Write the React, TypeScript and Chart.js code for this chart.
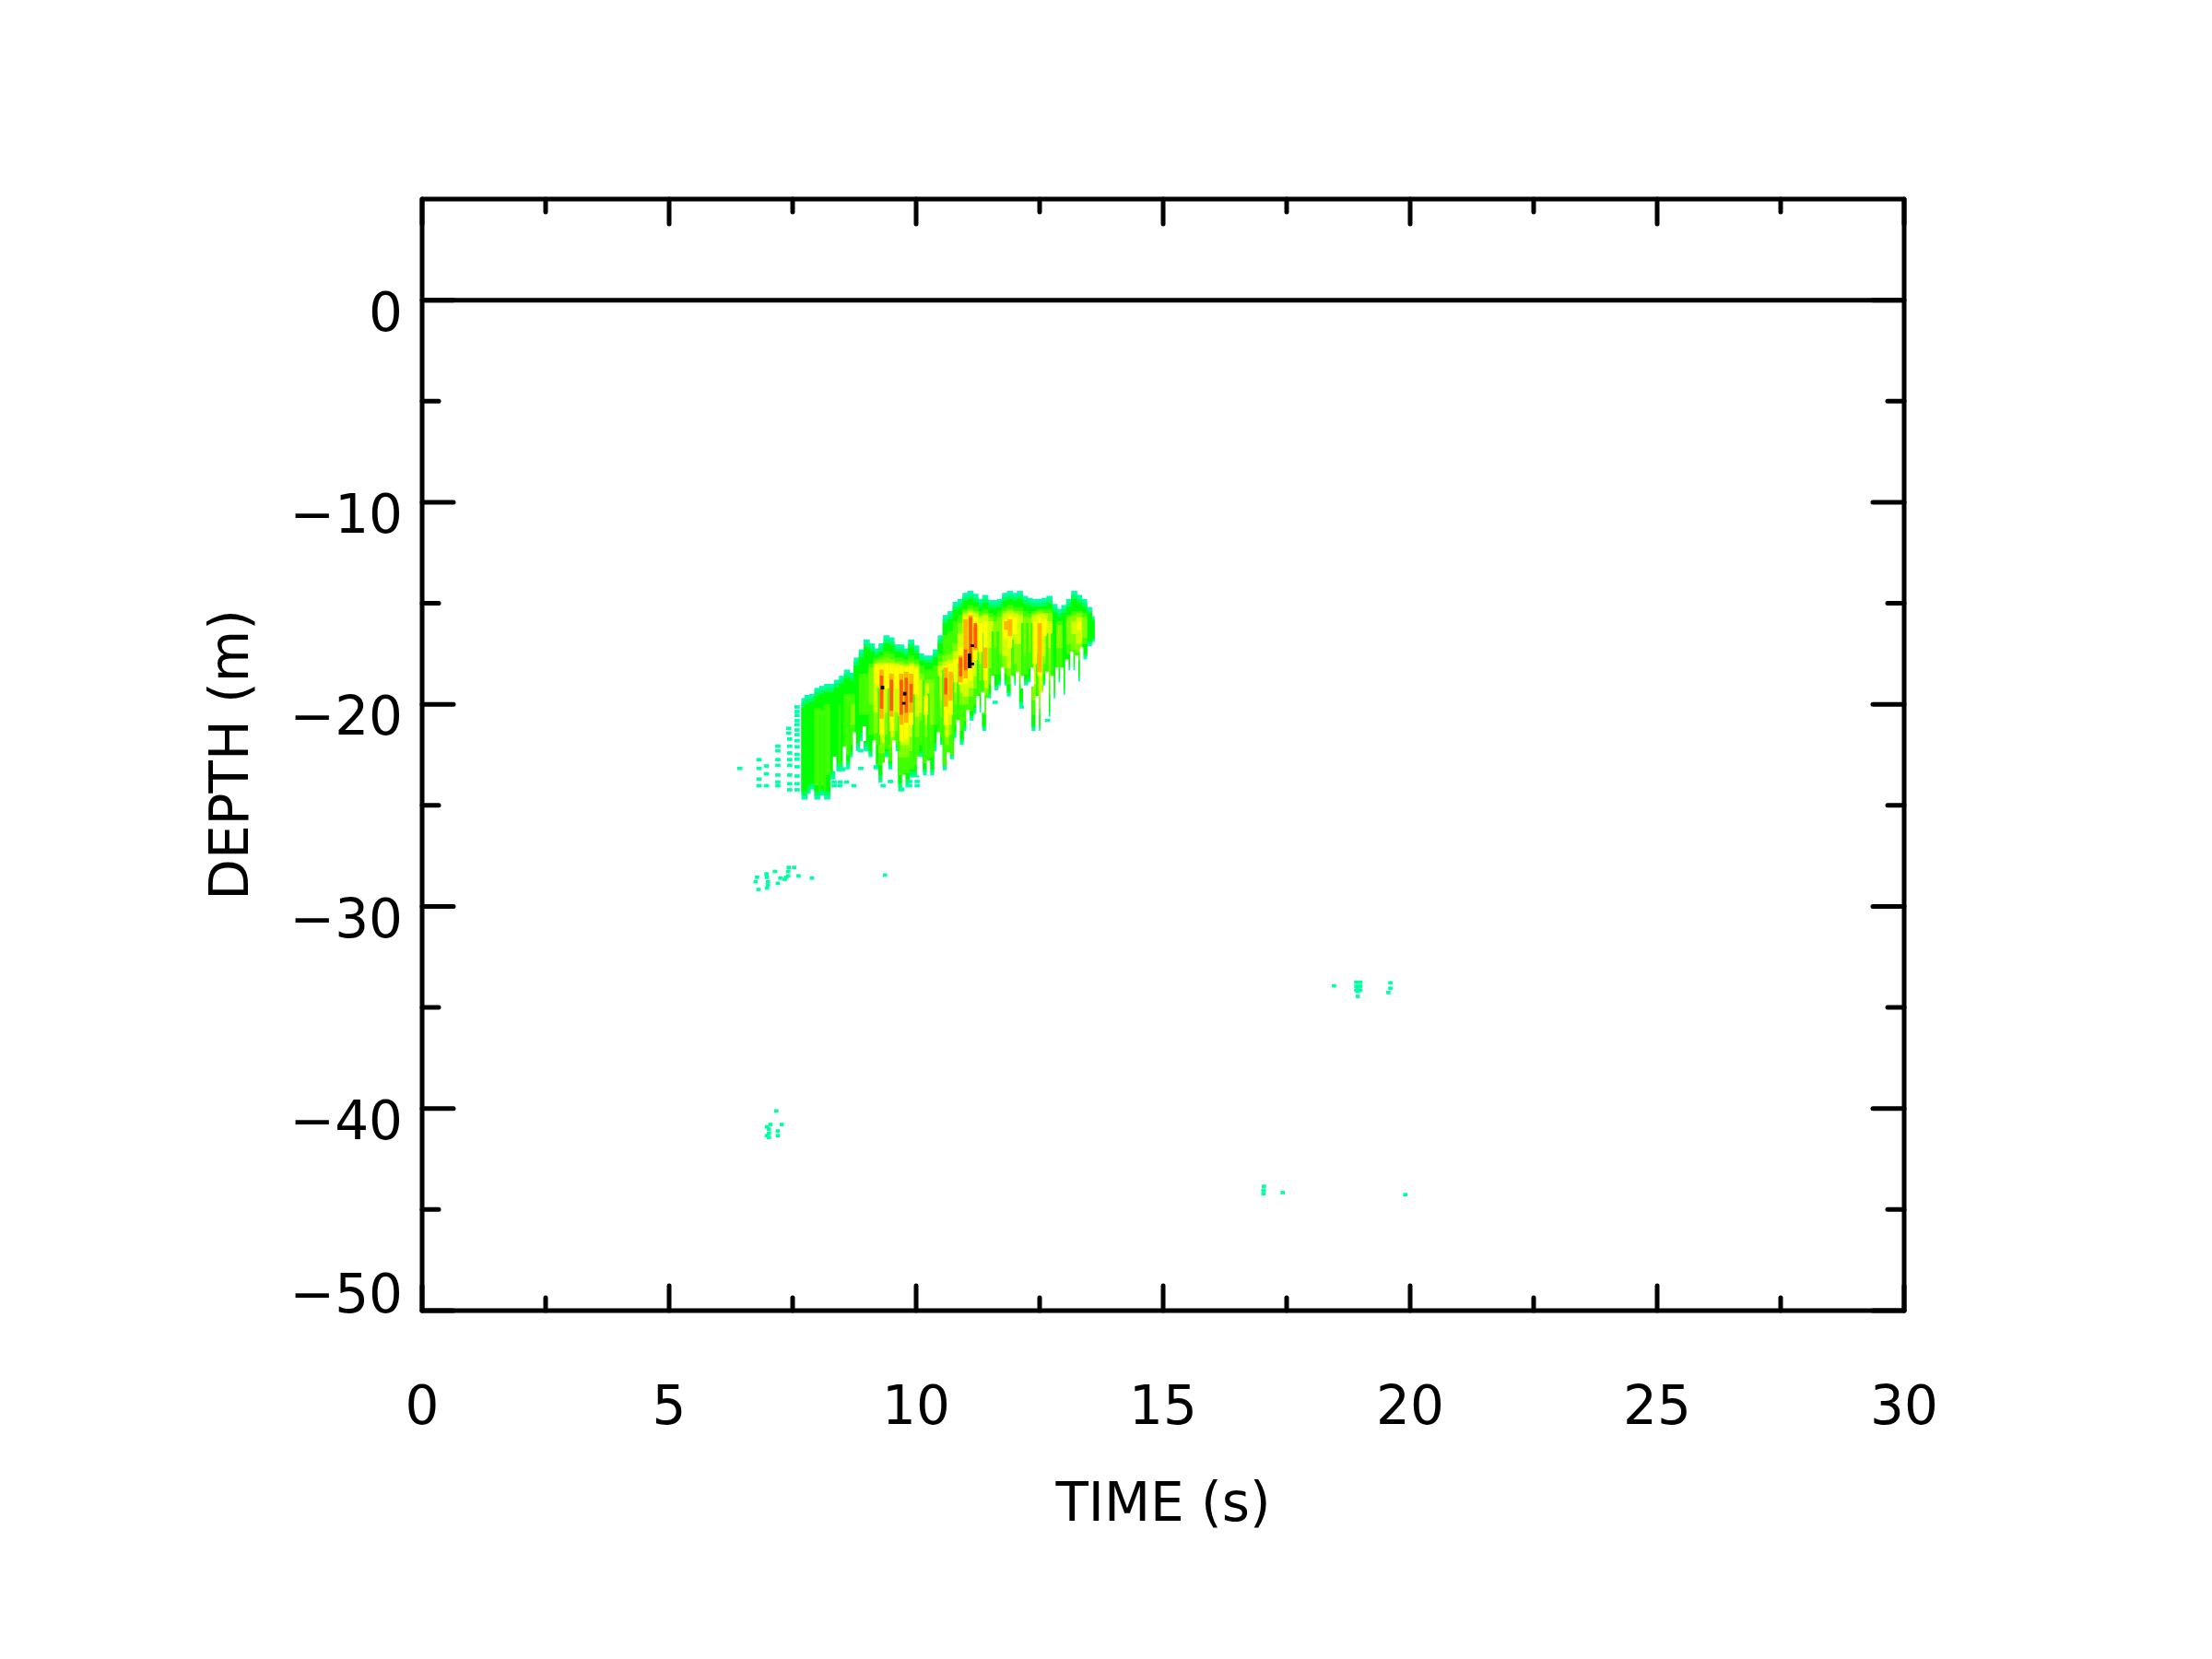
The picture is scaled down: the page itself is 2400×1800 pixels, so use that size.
import React, { useEffect, useRef } from "react";
import { Chart, registerables } from "chart.js";

Chart.register(...registerables);

const xTitle = "TIME (s)";
const yTitle = "DEPTH (m)";
const xMajorTicks = [0, 5, 10, 15, 20, 25, 30];
const xMinorTicks = [2.5, 7.5, 12.5, 17.5, 22.5, 27.5];
const yMajorTicks = [0, -10, -20, -30, -40, -50];
const yMinorTicks = [-5, -15, -25, -35, -45];
const surfaceDepth = [0, 0];
const surfaceTime = [0, 30];

const columnTimes = [7.74,7.8,7.9,8.0,8.1,8.2,8.3,8.4,8.5,8.6,8.7,8.8,8.9,9.0,9.1,9.2,9.3,9.4,9.5,9.6,9.7,9.8,9.9,10.0,10.1,10.2,10.3,10.4,10.5,10.6,10.7,10.8,10.9,11.0,11.1,11.2,11.3,11.4,11.5,11.6,11.7,11.8,11.9,12.0,12.1,12.2,12.3,12.4,12.5,12.6,12.7,12.8,12.9,13.0,13.1,13.2,13.3,13.4,13.5,13.55];

const faintTop = [-19.7,-19.55,-19.5,-19.2,-19.1,-19.0,-19.0,-18.8,-18.6,-18.3,-18.45,-17.7,-17.3,-16.8,-17,-17.25,-17,-16.6,-16.7,-17.05,-17.05,-17.25,-16.8,-17.1,-17.5,-17.6,-17.6,-17.3,-16.6,-15.6,-15.4,-14.95,-14.8,-14.5,-14.4,-14.55,-14.8,-14.6,-14.85,-14.85,-14.8,-14.5,-14.4,-14.5,-14.4,-14.65,-14.75,-14.8,-14.8,-14.75,-14.65,-15.05,-15.3,-15.1,-14.8,-14.4,-14.6,-14.8,-15.2,-15.65];
const faintBottom = [-24.7,-24.4,-24.2,-24.7,-24.5,-24.7,-23.7,-23.3,-23.3,-23.2,-22.6,-22.3,-21.8,-22.3,-22.6,-23.2,-23.85,-22.6,-23.2,-22.3,-24.3,-24.05,-23.6,-23.6,-22.6,-23.5,-23.5,-22.3,-22,-23.25,-22.7,-21.65,-22,-21.3,-20.8,-20.45,-20.3,-21.3,-19.7,-19.3,-19.05,-19.05,-19.6,-19.05,-20.1,-19.05,-18.9,-21.3,-21.3,-19.05,-20.6,-19.7,-18.9,-19.5,-18.3,-18.3,-18.85,-17.75,-17.1,-16.9];
const springTop = [-19.9,-19.75,-19.7,-19.4,-19.3,-19.2,-19.2,-19.0,-18.8,-18.5,-18.65,-17.9,-17.5,-17.0,-17.2,-17.45,-17.2,-16.8,-16.9,-17.25,-17.25,-17.45,-17.0,-17.3,-17.7,-17.8,-17.8,-17.5,-16.8,-15.8,-15.6,-15.15,-15.0,-14.7,-14.6,-14.75,-15.0,-14.8,-15.05,-15.05,-15.0,-14.7,-14.6,-14.7,-14.6,-14.85,-14.95,-15.0,-15.0,-14.95,-14.85,-15.25,-15.5,-15.3,-15.0,-14.6,-14.8,-15.0,-15.4,-15.8];
const springBottom = [-24.5,-24.2,-24.05,-24.5,-24.3,-24.5,-23.5,-23.1,-23.1,-23.0,-22.45,-22.1,-21.6,-22.1,-22.45,-23.05,-23.7,-22.45,-23.05,-22.1,-24.1,-23.9,-23.45,-23.45,-22.45,-23.35,-23.35,-22.1,-21.85,-23.1,-22.55,-21.5,-21.85,-21.15,-20.65,-20.3,-20.15,-21.15,-19.55,-19.15,-18.9,-18.9,-19.45,-18.9,-19.95,-18.9,-18.75,-21.15,-21.15,-18.9,-20.45,-19.55,-18.75,-19.35,-18.15,-18.15,-18.7,-17.6,-16.95,-16.8];
const greenTop = [-20.2,-20.0,-19.9,-19.6,-19.5,-19.4,-19.4,-19.2,-19.0,-18.7,-18.85,-18.1,-17.7,-17.2,-17.4,-17.6,-17.4,-17.0,-17.1,-17.4,-17.45,-17.6,-17.2,-17.5,-17.85,-17.95,-17.95,-17.7,-17.0,-16.0,-15.8,-15.35,-15.2,-14.9,-14.8,-14.95,-15.2,-15.0,-15.25,-15.25,-15.2,-14.9,-14.8,-14.9,-14.8,-15.05,-15.15,-15.2,-15.2,-15.15,-15.05,-15.45,-15.7,-15.5,-15.2,-14.8,-15.0,-15.2,-15.5,-15.85];
const greenBottom = [-24.3,-24.0,-23.9,-24.3,-24.2,-24.3,-23.3,-22.9,-22.8,-22.8,-22.3,-21.9,-21.4,-21.9,-22.3,-22.9,-23.5,-22.3,-22.9,-21.9,-23.9,-23.7,-23.3,-23.3,-22.3,-23.2,-23.2,-21.9,-21.7,-22.95,-22.4,-21.35,-21.7,-21.05,-20.55,-20.15,-20.05,-21.05,-19.45,-19.05,-18.8,-18.8,-19.35,-18.8,-19.85,-18.8,-18.65,-21.05,-21.05,-18.8,-20.35,-19.45,-18.65,-19.25,-18.05,-18.05,-18.6,-17.5,-16.85,-16.75];

const softLimeCells = [[8.0,-20.2,-24],[8.1,-20.3,-24],[8.2,-20,-23.5],[8.6,-19.5,-22.5],[8.7,-19.5,-22],[8.9,-18.5,-20.5],[9.0,-18.5,-20.5],[9.1,-18,-21.5],[9.2,-17.7,-22],[9.3,-17.6,-23],[9.4,-17.4,-22.2],[9.5,-17.5,-22.8],[9.6,-17.7,-22.0],[9.7,-17.7,-23.5],[9.8,-17.8,-23.4],[9.9,-17.6,-23.2],[10.0,-17.8,-23],[10.1,-18.1,-22],[10.2,-18.3,-22.9],[10.3,-18.3,-22.6],[10.4,-18.1,-21],[10.5,-17.5,-21.6],[10.6,-16.6,-23],[10.7,-16.4,-22.5],[10.8,-15.9,-21],[10.9,-15.6,-21.3],[11.0,-15.3,-20.8],[11.1,-15.1,-20.3],[11.2,-15.2,-20],[11.3,-15.4,-19.5],[11.4,-15.3,-20.5],[11.5,-15.5,-19],[11.6,-15.6,-18.5],[11.7,-15.4,-18.5],[11.8,-15.2,-18.5],[11.9,-15.1,-19],[12.0,-15.2,-18.5],[12.1,-15.2,-19],[12.2,-15.4,-18.5],[12.3,-15.5,-18.2],[12.4,-15.4,-20.5],[12.5,-15.3,-20.5],[12.6,-15.3,-18.5],[12.7,-15.3,-19.5],[12.9,-15.9,-18.2],[13.1,-15.6,-17.5],[13.2,-15.4,-17.6],[13.3,-15.4,-17.8],[13.4,-15.5,-17]];
const limeCells = [[8.7,-20,-21],[9.1,-18.2,-20],[9.2,-17.85,-21.4],[9.3,-17.8,-22.4],[9.4,-17.7,-21.5],[9.5,-17.8,-22.1],[9.6,-17.9,-21.3],[9.7,-17.9,-22.6],[9.8,-18,-22.6],[9.9,-17.9,-22.3],[10.0,-18,-21.6],[10.1,-18.5,-20.8],[10.2,-18.8,-21.6],[10.3,-18.8,-21],[10.5,-17.9,-20.6],[10.6,-17.6,-22],[10.7,-17.5,-21.5],[10.8,-17,-20],[10.9,-16,-20],[11.0,-15.4,-20],[11.1,-15.3,-19.6],[11.2,-15.4,-19.2],[11.3,-15.6,-18.8],[11.4,-15.5,-19.5],[11.5,-15.7,-18.2],[11.6,-15.9,-17.2],[11.7,-15.7,-17.5],[11.8,-15.4,-18.2],[11.9,-15.3,-18.6],[12.0,-15.4,-18],[12.1,-15.4,-18.6],[12.2,-15.7,-17.6],[12.3,-15.7,-17.4],[12.4,-15.5,-19.8],[12.5,-15.4,-20.2],[12.6,-15.5,-18],[12.7,-15.5,-18.8],[12.9,-16.1,-17.2],[13.1,-15.7,-17],[13.2,-15.6,-17.3],[13.3,-15.5,-17.4],[13.4,-15.7,-16.7]];
const chartreuseCells = [[9.2,-18,-20.4],[9.3,-17.95,-21.9],[9.4,-17.95,-20.4],[9.5,-17.95,-21.6],[9.6,-18,-20.4],[9.7,-18.05,-22],[9.8,-18.1,-22],[9.9,-18,-21.6],[10.0,-18.1,-20.6],[10.1,-18.8,-20.4],[10.2,-19,-21],[10.5,-18.1,-19.8],[10.6,-17.9,-21.6],[10.7,-17.8,-21],[10.8,-17.4,-19.4],[10.9,-16.5,-19.4],[11.0,-15.5,-19.6],[11.1,-15.4,-19.2],[11.2,-15.5,-18.6],[11.3,-15.7,-18],[11.4,-15.6,-19.2],[11.5,-15.9,-17.2],[11.8,-15.5,-17.6],[11.9,-15.4,-18.2],[12.0,-15.5,-17],[12.1,-15.6,-17],[12.4,-15.6,-19],[12.5,-15.5,-19.5],[12.6,-15.5,-17.6],[12.7,-15.9,-17.2],[13.2,-15.9,-16.5],[13.3,-15.7,-17]];
const yellowCells = [[9.2,-18.05,-19],[9.3,-18.05,-21.5],[9.4,-18,-19.2],[9.5,-18.05,-21.3],[9.6,-18.1,-19.2],[9.7,-18.1,-21.8],[9.8,-18.15,-21.7],[9.9,-18.1,-21],[10.0,-18.25,-19.5],[10.2,-19.6,-20.5],[10.6,-18.1,-21],[10.7,-18,-20.5],[10.8,-17.8,-18.9],[10.9,-17.2,-19],[11.0,-15.7,-19],[11.1,-15.5,-18.8],[11.2,-15.7,-17.8],[11.3,-16,-17.4],[11.4,-15.9,-18.8],[11.8,-15.8,-16.8],[11.9,-15.6,-17.2],[12.0,-15.7,-16.5],[12.4,-15.9,-18],[12.5,-15.7,-18.6],[12.6,-15.8,-16.6],[13.3,-15.9,-16.3]];
const amberCells = [[9.3,-18.3,-20.7],[9.5,-18.5,-20.6],[9.7,-18.5,-21],[9.8,-18.4,-20.9],[9.9,-18.5,-20.4],[10.6,-18.2,-20.1],[10.7,-18.4,-19.8],[10.9,-17.6,-18.9],[11.0,-15.8,-18.7],[11.1,-15.6,-18.2],[11.2,-16.2,-17.3],[11.4,-17.2,-18.2],[11.82,-15.9,-16.3],[11.9,-15.8,-16.6],[12.5,-16,-18.4]];
const redCells = [[9.3,-18.6,-20.2],[9.5,-18.8,-20.3],[9.7,-18.8,-20.5],[9.8,-18.7,-20.4],[9.9,-19,-19.9],[10.6,-18.7,-19.5],[10.9,-17.7,-18.6],[11.0,-17.3,-18.3],[11.1,-15.7,-18.2],[11.2,-16,-17.2]];
const blackCells = [[9.32,-19.1,-19.25],[9.77,-19.4,-19.55],[9.75,-19.9,-20],[11.08,-17.5,-18.2],[11.14,-17.05,-17.15],[11.14,-17.95,-18.05]];
const coolStripes = [[9.25,-19.2,-22],[9.45,-19.2,-22],[9.65,-20.6,-22.3],[9.95,-19.5,-22.8],[10.15,-18.8,-22.3],[10.25,-19.5,-22.8],[10.45,-18.6,-21.5],[10.55,-18.3,-22],[10.75,-18.5,-21.8],[10.85,-18,-20.8],[11.25,-17.2,-20],[11.35,-16.5,-19.8],[11.55,-16.4,-19],[11.65,-16.4,-18.5],[11.95,-16.8,-18.8],[12.15,-16,-19],[12.25,-16,-18.5],[12.35,-16,-18.5],[12.45,-17.5,-20.2],[12.65,-16.5,-19],[12.75,-16.5,-19.5],[8.05,-20.5,-24.3],[8.15,-20.5,-24.3],[8.45,-20,-23],[8.55,-20,-23],[8.65,-20,-22.5]];
const whiteGaps = [[8.35,-22.6,-23.3],[8.55,-22.1,-23.1],[8.75,-21.4,-22.6],[8.95,-21.1,-21.8],[9.15,-21.8,-23],[9.35,-22.9,-23.9],[9.55,-21.8,-23.2],[9.75,-23.5,-24.1],[10.05,-22.6,-23.5],[10.25,-22.8,-23.5],[10.45,-21.4,-22.4],[10.65,-22.4,-23.3],[10.85,-20.8,-22.1],[11.05,-20.3,-21.4],[11.25,-19.6,-20.5],[11.35,-19.4,-20.4],[11.45,-19.7,-21.3],[11.55,-18.6,-19.8],[11.75,-18.2,-19.2],[11.95,-18.6,-19.7],[12.05,-18.4,-20.2],[12.15,-18.6,-19.2],[12.35,-18.2,-19.1],[12.45,-19.6,-21.4],[12.55,-19.4,-21.4],[12.65,-18.4,-20.7],[12.75,-18.6,-20.7],[12.85,-18.2,-19.8],[12.95,-18.2,-19.6],[13.05,-17.8,-19.6],[13.15,-17.4,-18.4],[13.25,-17.6,-18.9],[13.35,-17.2,-18.9]];

const nearSpeckles = [[6.43,-23.17],[6.82,-22.74],[6.82,-23.17],[6.82,-23.7],[6.82,-24.03],[6.97,-23.05],[6.97,-23.44],[6.97,-24.03],[7.2,-22.07],[7.2,-22.3],[7.2,-22.74],[7.2,-23.02],[7.2,-23.5],[7.2,-23.85],[7.2,-24.03],[7.42,-21.19],[7.42,-21.42],[7.44,-21.72],[7.44,-22.07],[7.44,-22.41],[7.44,-22.74],[7.44,-23.02],[7.44,-23.5],[7.44,-23.93],[7.44,-24.23],[7.59,-20.13],[7.59,-20.36],[7.59,-20.55],[7.59,-20.81],[7.59,-21.01],[7.59,-21.27],[7.59,-21.5],[7.59,-21.8],[7.59,-22.1],[7.59,-22.48],[7.59,-22.71],[7.59,-23.09],[7.59,-23.55],[7.59,-23.93],[7.59,-24.23],[8.34,-23.85],[8.46,-23.85],[8.59,-23.85],[8.34,-24.03],[8.46,-24.03],[8.74,-24.03],[9.33,-24.03],[9.48,-23.82],[9.77,-23.82],[9.87,-23.82],[10.02,-23.82],[9.77,-24.03],[9.87,-24.03],[10.02,-24.03],[8.99,-21.0],[8.99,-21.19],[9.05,-21.5],[8.88,-22.3],[8.88,-23.17],[10.42,-20.96],[10.42,-21.19],[10.42,-21.42],[11.04,-21],[11.04,-21.22],[11.43,-20.96],[11.43,-21.19],[11.6,-19.9],[12.13,-20.13],[12.66,-20.78],[11.32,-20.33]];
const farSpeckles = [[7.42,-28.07],[7.53,-28.07],[7.14,-28.27],[7.41,-28.27],[6.97,-28.39],[7.41,-28.49],[7.62,-28.49],[6.78,-28.56],[6.98,-28.56],[7.25,-28.6],[7.37,-28.56],[7.34,-28.66],[7.89,-28.6],[6.75,-28.78],[7.0,-28.78],[7.2,-28.86],[7.0,-28.94],[6.98,-29.09],[6.81,-29.16],[9.37,-28.45],[7.17,-40.12],[7.05,-40.79],[7.28,-40.79],[6.98,-40.91],[7.02,-41.02],[7.2,-41.11],[7.02,-41.23],[6.98,-41.34],[7.2,-41.34],[7.02,-41.43],[18.46,-33.93],[19.6,-33.78],[19.6,-34.05],[19.56,-34.26],[18.91,-33.75],[18.91,-33.95],[18.91,-34.15],[18.99,-33.75],[18.99,-33.95],[18.99,-34.15],[18.94,-34.0],[18.94,-34.2],[18.94,-34.45],[17.04,-43.85],[17.03,-44.05],[17.03,-44.22],[17.42,-44.16],[19.9,-44.26]];

const fromColumns = (tops: number[], bottoms: number[]) =>
  columnTimes.map((x, i) => ({ x, y: [bottoms[i], tops[i]] }));
const fromCells = (cells: number[][]) =>
  cells.map(([x, top, bottom]) => ({ x, y: [bottom, top] }));
const fromSpeckles = (pts: number[][]) =>
  pts.map(([x, d]) => ({ x, y: [d - 0.07, d + 0.07] }));

const ink = "#000000";

const frame = {
  id: "frame",
  beforeDraw(chart: any) {
    const y = chart.scales.y;
    const items = y.getLabelItems();
    items.forEach((item: any) => {
      if (item.label === "\u221250") {
        item.options.translation[1] = y.getPixelForValue(-50) - 13;
      }
    });
  },
  afterDraw(chart: any) {
    const { ctx, chartArea: a, scales } = chart;
    const { x, y } = scales;
    ctx.save();
    ctx.strokeStyle = ink;
    ctx.lineWidth = 5;
    ctx.lineCap = "round";
    ctx.lineJoin = "round";
    ctx.strokeRect(a.left, a.top, a.right - a.left, a.bottom - a.top);
    const seg = (x0: number, y0: number, x1: number, y1: number) => {
      ctx.beginPath();
      ctx.moveTo(x0, y0);
      ctx.lineTo(x1, y1);
      ctx.stroke();
    };
    const xTick = (v: number, len: number) => {
      const p = x.getPixelForValue(v);
      seg(p, a.bottom, p, a.bottom - len);
      seg(p, a.top, p, a.top + len);
    };
    const yTick = (v: number, len: number) => {
      const p = y.getPixelForValue(v);
      seg(a.left, p, a.left + len, p);
      seg(a.right, p, a.right - len, p);
    };
    xMajorTicks.forEach((v) => xTick(v, 27));
    xMinorTicks.forEach((v) => xTick(v, 14));
    yMajorTicks.forEach((v) => yTick(v, 34));
    yMinorTicks.forEach((v) => yTick(v, 18));
    ctx.restore();
  },
};

export default function App() {
  const ref = useRef<HTMLCanvasElement>(null);
  useEffect(() => {
    const band = (data: any[], color: string, order: number, barThickness = 6) => ({
      type: "bar" as const,
      data,
      backgroundColor: color,
      borderWidth: 0,
      order,
      barThickness,
      grouped: false,
    });
    const chart = new Chart(ref.current!, {
      type: "bar",
      data: {
        datasets: [
          {
            type: "line",
            data: surfaceTime.map((x, i) => ({ x, y: surfaceDepth[i] })),
            borderColor: ink,
            borderWidth: 5,
            pointRadius: 0,
            order: 0,
          } as any,
          band(fromCells(blackCells), "#000000", 1, 3),
          band(fromCells(redCells), "#ff5a00", 2, 3),
          band(fromCells(amberCells), "#ffb400", 3, 4),
          band(fromCells(yellowCells), "#ffff00", 4, 4),
          band(fromCells(whiteGaps), "#ffffff", 4.5, 3),
          band(fromCells(coolStripes), "#30ff00", 4.6, 2),
          band(fromCells(chartreuseCells), "#d0ff00", 5),
          band(fromCells(limeCells), "#80ff00", 6),
          band(fromCells(softLimeCells), "#40ff00", 6.5),
          band(fromColumns(greenTop, greenBottom), "#00ff00", 7),
          band(fromColumns(springTop, springBottom), "#00ff60", 8),
          band(fromColumns(faintTop, faintBottom), "#00ffa8", 9),
          band(fromSpeckles(nearSpeckles), "#00ffa8", 10, 5),
          band(fromSpeckles(farSpeckles), "#00ffa0", 10, 4),
        ],
      },
      options: {
        responsive: false,
        animation: false,
        events: [],
        layout: { padding: { left: 219, top: 216, right: 334, bottom: 130 } },
        plugins: { legend: { display: false }, tooltip: { enabled: false } },
        scales: {
          x: {
            type: "linear",
            min: 0,
            max: 30,
            offset: false,
            grid: { display: false, drawTicks: false },
            border: { display: false },
            ticks: {
              stepSize: 5,
              color: ink,
              padding: 73,
              maxRotation: 0,
              font: { family: "DejaVu Sans", size: 58 },
            },
            title: {
              display: true,
              text: xTitle,
              color: ink,
              padding: { top: 0, bottom: 0 },
              font: { family: "DejaVu Sans", size: 58 },
            },
            afterFit(s: any) {
              s.height = 248;
            },
          },
          y: {
            type: "linear",
            min: -50,
            max: 5,
            grid: { display: false, drawTicks: false },
            border: { display: false },
            ticks: {
              stepSize: 10,
              includeBounds: false,
              color: ink,
              padding: 21,
              labelOffset: 18,
              font: { family: "DejaVu Sans", size: 58 },
              callback: (v: any) => String(v).replace("-", "\u2212"),
            },
            title: {
              display: true,
              text: yTitle,
              color: ink,
              padding: { top: 0, bottom: 0 },
              font: { family: "DejaVu Sans", size: 58 },
            },
            afterFit(s: any) {
              s.width = 239;
            },
          },
        },
      },
      plugins: [frame],
    } as any);
    return () => chart.destroy();
  }, []);
  return (
    <div style={{ position: "absolute", left: 0, top: 0, width: 2400, height: 1800, background: "#fff" }}>
      <canvas ref={ref} width={2400} height={1800} style={{ display: "block" }} />
    </div>
  );
}
